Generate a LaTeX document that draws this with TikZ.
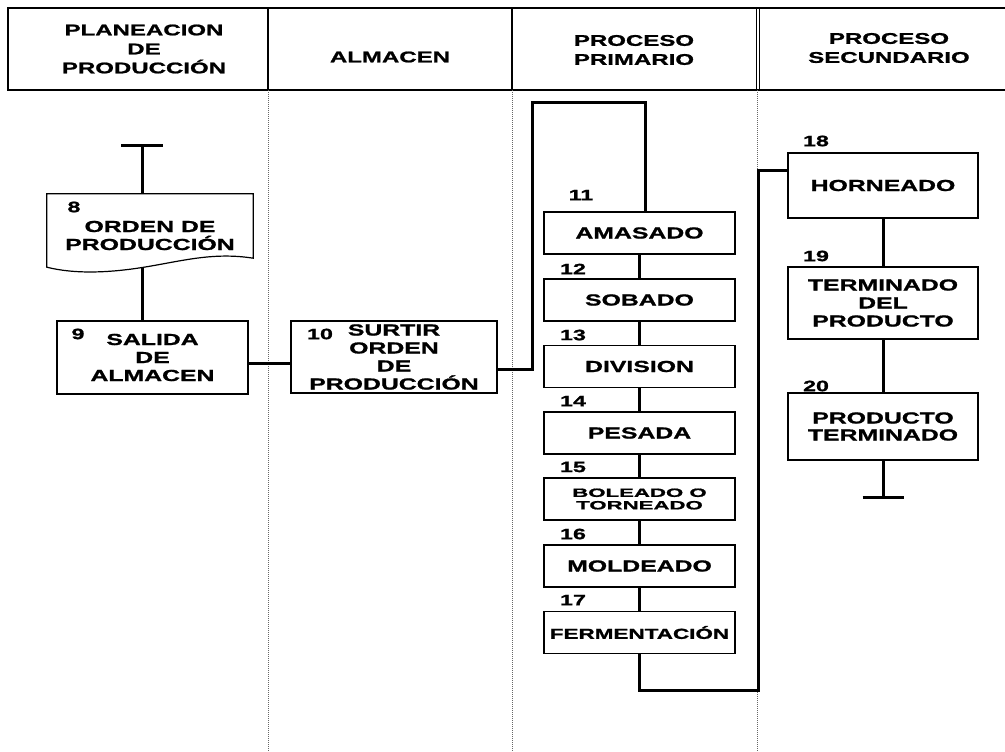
\documentclass[tikz,border=0pt]{standalone}
\usepackage{fontspec}
\setmainfont{Liberation Sans}[FakeStretch=1.55, BoldFeatures={FakeBold=1.2}]
\newfontfamily\anchafont{Liberation Sans}[FakeStretch=1.85, BoldFeatures={FakeBold=1.2}]
\usetikzlibrary{positioning}
\usetikzlibrary{calc}

\tikzset{
  paso/.style={draw, line width=1.2pt, minimum width=191pt, minimum height=42pt, inner sep=0pt, align=center, font=\fontsize{16}{18}\selectfont\bfseries},
  num/.style={inner sep=0pt, font=\fontsize{15}{15}\selectfont\bfseries},
  titulo/.style={align=center, inner sep=0pt, font=\fontsize{15.5}{19}\selectfont\bfseries},
  linea/.style={line width=3pt},
  carril/.style={black!60, line width=0.6pt, dash pattern=on 1pt off 1pt},
}

\begin{document}
\begin{tikzpicture}[x=1pt, y=-1pt]
\useasboundingbox (0,0) rectangle (1005,752);

% --- encabezado ---
\draw[line width=1.5pt] (1005,8) -- (8,8) -- (8,90) -- (1005,90);
\foreach \xc in {268,512} \draw[line width=1.2pt] (\xc,8) -- (\xc,90);
\foreach \xc in {756.5,759.5} \draw[line width=0.9pt] (\xc,8) -- (\xc,90);
\node[titulo] (h1) at (144,49) {PLANEACION\\DE\\PRODUCCIÓN};
\node[titulo] (h2) at (390,57) {ALMACEN};
\node[titulo] (h3) at (634,50) {PROCESO\\PRIMARIO};
\node[titulo] (h4) at (889,48) {PROCESO\\SECUNDARIO};

% --- carriles ---
\foreach \xc in {268,512,757} \draw[carril] (\xc,90) -- (\xc,752);

% --- planeacion y almacen ---
\coordinate (inicio) at (142,145);
\node[minimum width=206pt, minimum height=73pt] (n8) at (150,230.5) {};
\draw[line width=1.2pt] (n8.north west) -- (n8.north east) -- ([yshift=9pt]n8.south east)
    .. controls ([xshift=-38pt,yshift=15pt]n8.south east) and ([xshift=35pt,yshift=7pt]n8.south) .. ([yshift=1pt]n8.south)
    .. controls ([xshift=-40pt,yshift=-6pt]n8.south) and ([xshift=28pt,yshift=-7pt]n8.south west) .. (n8.south west) -- cycle;
\node[paso, draw=none, minimum size=0pt] (t8) at ([yshift=-5pt]n8.center) {ORDEN DE\\PRODUCCIÓN};
\node[num] (c8) at (74,207) {8};

\node[paso, minimum height=73pt] (n9) at (152.5,357.5) {SALIDA\\DE\\ALMACEN};
\node[num] (c9) at (78,334) {9};
\node[paso, minimum width=206pt, minimum height=72pt] (n10) at (394,357) {SURTIR\\ORDEN\\DE\\PRODUCCIÓN};
\node[num] (c10) at (320,334) {10};

\draw[linea] (inicio) -- (inicio |- n8.north);
\draw[linea] ([xshift=-21pt]inicio) -- ([xshift=21pt]inicio);
\draw[linea] (inicio |- n8.south) -- (inicio |- n9.north);
\draw[linea] ([yshift=-6pt]n9.east) -- ([yshift=-6pt]n9.east -| n10.west);

% --- proceso primario ---
\node[paso] (n11) at (639.5,233) {AMASADO};
\node[paso] (n12) at (639.5,300) {SOBADO};
\node[paso] (n13) at (639.5,366.5) {DIVISION};
\node[paso] (n14) at (639.5,433) {PESADA};
\node[paso, font=\anchafont\fontsize{12}{12.5}\selectfont\bfseries] (n15) at (639.5,499) {BOLEADO O\\TORNEADO};
\node[paso] (n16) at (639.5,566) {MOLDEADO};
\node[paso, font=\fontsize{14.5}{17}\selectfont\bfseries] (n17) at (639.5,632.5) {FERMENTACIÓN};
\foreach \i/\xc/\yc in {11/581/195, 12/573/269, 13/573/335, 14/573/401, 15/573/467, 16/573/534, 17/573/600}
    \node[num] (c\i) at (\xc,\yc) {\i};
\foreach \a/\b in {11/12,12/13,13/14,14/15,15/16,16/17}
    \draw[linea] (n\a.south) -- (n\b.north);

\coordinate (vueltaA) at (532,103);
\coordinate (vueltaB) at (645,103);
\draw[linea] ([yshift=-12pt]n10.east) -| (vueltaA) -- (vueltaB) -- (vueltaB |- n11.north);

% --- proceso secundario ---
\node[paso, minimum width=190pt, minimum height=65pt] (n18) at (883,185.5) {HORNEADO};
\node[paso, minimum width=190pt, minimum height=72pt] (n19) at (883,303) {TERMINADO\\DEL\\PRODUCTO};
\node[paso, minimum width=190pt, minimum height=67pt, font=\fontsize{16}{17}\selectfont\bfseries] (n20) at (883,426.5) {PRODUCTO\\TERMINADO};
\foreach \i/\yc in {18/141, 19/256, 20/386}
    \node[num] (c\i) at (816,\yc) {\i};
\draw[linea] (n18) -- (n19);
\draw[linea] (n19) -- (n20);

\coordinate (vueltaC) at (758,690);
\draw[linea] (n17.south) |- (vueltaC) |- ([yshift=15pt]n18.west);

\coordinate (fin) at (883,497);
\draw[linea] (n20.south) -- (fin);
\draw[linea] ([xshift=-20.5pt]fin) -- ([xshift=20.5pt]fin);
\end{tikzpicture}
\end{document}
